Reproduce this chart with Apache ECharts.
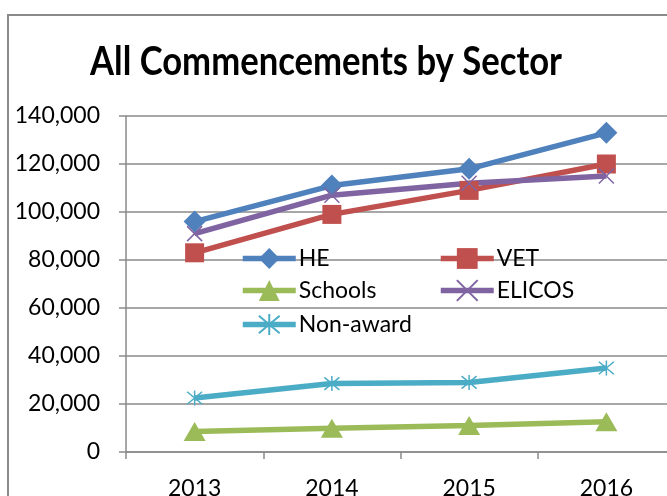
<!DOCTYPE html>
<html>
<head>
<meta charset="utf-8">
<script src="https://cdn.jsdelivr.net/npm/echarts@6/dist/echarts.min.js"></script>
<style>
html,body{margin:0;padding:0;background:#fff;}
#chart{width:667px;height:496px;}
</style>
</head>
<body>
<div id="chart"></div>
<script>
var years = ['2013', '2014', '2015', '2016'];
var heData = [96000, 111000, 118000, 133000];
var vetData = [83000, 99000, 109000, 120000];
var schoolsData = [8500, 9900, 11000, 12600];
var elicosData = [91000, 107000, 112000, 115000];
var nonAwardData = [22500, 28500, 29000, 35000];
var yTicks = [0, 20000, 40000, 60000, 80000, 100000, 120000, 140000];

var font = 'Lato';
var gridColor = '#8a8a8a';
var crossPath = 'path://M0,0L10,10M10,0L0,10';
var starPath = 'path://M0,0L10,10M10,0L0,10M5,-1L5,11';

var chart = echarts.init(document.getElementById('chart'));

function legendAt(name, left, top) {
	return {
		data: [name],
		left: left,
		top: top,
		itemWidth: 53,
		itemHeight: 26,
		itemGap: 6,
		padding: 0,
		lineStyle: {width: 5.5},
		textStyle: {fontFamily: font, fontSize: 23, color: '#000', padding: [0, 0, 0, -2]}
	};
}

function lineSeries(name, data, color, symbol, size, itemStyle) {
	return {
		name: name,
		type: 'line',
		data: data,
		color: color,
		symbol: symbol,
		symbolSize: size,
		showAllSymbol: true,
		lineStyle: {width: 5.5, color: color},
		itemStyle: itemStyle || {color: color},
		emphasis: {disabled: true},
		z: 3
	};
}

var option = {
	animation: false,
	graphic: [{
		type: 'rect',
		shape: {x: 8, y: 15, width: 720, height: 520},
		style: {fill: 'none', stroke: '#8a8a8a', lineWidth: 2},
		silent: true
	}, {
		type: 'text',
		x: 326,
		y: 62,
		scaleX: 0.845,
		style: {
			text: 'All Commencements by Sector',
			font: 'bold 41px Lato',
			fill: '#000',
			align: 'center',
			verticalAlign: 'middle'
		},
		silent: true
	}],
	grid: {
		left: 126,
		top: 116,
		width: 549,
		bottom: 44,
		outerBoundsMode: 'none',
		containLabel: false
	},
	legend: [
		legendAt('HE', 240, 247),
		legendAt('VET', 438, 247),
		legendAt('Schools', 240, 279),
		legendAt('ELICOS', 438, 279),
		legendAt('Non-award', 240, 313)
	],
	xAxis: {
		type: 'category',
		data: years,
		boundaryGap: true,
		axisLine: {lineStyle: {color: gridColor, width: 1.5}},
		axisTick: {show: true, length: 7, lineStyle: {color: gridColor, width: 1.5}},
		axisLabel: {fontFamily: font, fontSize: 23, color: '#000', margin: 25},
		splitLine: {show: false}
	},
	yAxis: {
		type: 'value',
		min: yTicks[0],
		max: yTicks[yTicks.length - 1],
		interval: yTicks[1] - yTicks[0],
		axisLine: {show: true, lineStyle: {color: gridColor, width: 1.5}},
		axisTick: {show: true, length: 7, lineStyle: {color: gridColor, width: 1.5}},
		axisLabel: {
			fontFamily: font,
			fontSize: 23,
			color: '#000',
			margin: 26,
			formatter: function (v) { return v.toLocaleString('en-US'); }
		},
		splitLine: {show: true, lineStyle: {color: gridColor, width: 1.5}}
	},
	series: [
		lineSeries('HE', heData, '#4F81BD', 'diamond', 22),
		lineSeries('VET', vetData, '#C0504D', 'rect', 19),
		lineSeries('Schools', schoolsData, '#9BBB59', 'triangle', [22, 19]),
		lineSeries('ELICOS', elicosData, '#8064A2', crossPath, 15,
			{color: '#8064A2', borderColor: '#8064A2', borderWidth: 1.5}),
		lineSeries('Non-award', nonAwardData, '#4BACC6', starPath, 15,
			{color: '#4BACC6', borderColor: '#4BACC6', borderWidth: 1.5})
	]
};
chart.setOption(option);
</script>
</body>
</html>
